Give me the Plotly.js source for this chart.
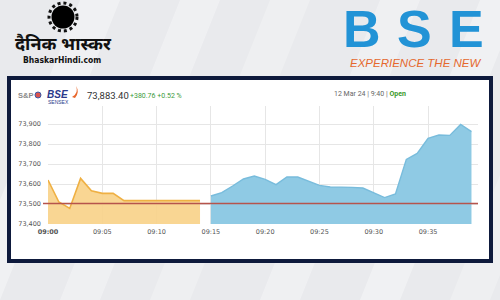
<!DOCTYPE html>
<html><head><meta charset="utf-8">
<script src="https://cdn.plot.ly/plotly-3.0.1.min.js"></script>
<style>html,body{margin:0;padding:0;background:#e9eaed}#chart{width:500px;height:300px}</style>
</head><body><div id="chart"></div><script>
const day = "2024-03-12 ";
const preOpenTimes = ["09:00","09:01","09:02","09:03","09:04","09:05","09:06","09:07","09:08","09:09","09:10","09:11","09:12","09:13","09:14"];
const preOpenValues = [73620,73510,73478,73628,73566,73553,73553,73517,73517,73517,73517,73517,73517,73517,73517];
const sessionTimes = ["09:15","09:16","09:17","09:18","09:19","09:20","09:21","09:22","09:23","09:24","09:25","09:26","09:27","09:28","09:29","09:30","09:31","09:32","09:33","09:34","09:35","09:36","09:37","09:38","09:39"];
const sessionValues = [73540,73557,73590,73625,73640,73623,73597,73635,73635,73613,73593,73585,73585,73583,73580,73557,73532,73550,73723,73753,73828,73845,73843,73898,73862];
const previousClose = 73502.64;
const yTickValues = [73400,73500,73600,73700,73800,73900];
const yTickLabels = ["73,400","73,500","73,600","73,700","73,800","73,900"];
const xTickTimes = ["09:00","09:05","09:10","09:15","09:20","09:25","09:30","09:35"];
const xTickLabels = ["<b>09:00</b>","09:05","09:10","09:15","09:20","09:25","09:30","09:35"];
const xRange = ["09:00:00","09:39:36"];
const lastValueText = "73,883.40";
const changeText = "+380.76 +0.52 %";
const statusText = "12 Mar 24 | 9:40 | ";
const statusWord = "Open";

const toDate = t => day + t;
const W = 500, H = 300;
const px = x => x / W, py = y => 1 - y / H;

const traces = [
  {x: preOpenTimes.map(toDate), y: preOpenValues, type: "scatter", mode: "lines",
   fill: "tozeroy", fillcolor: "rgba(248,210,135,0.9)", line: {color: "#efb043", width: 1.6}, hoverinfo: "skip"},
  {x: sessionTimes.map(toDate), y: sessionValues, type: "scatter", mode: "lines",
   fill: "tozeroy", fillcolor: "#8fcae4", line: {color: "#78bcdc", width: 1.4}, hoverinfo: "skip"}
];

const stripes = [];
[[-40,0.35],[60,0.3],[150,0.25],[260,0.3],[360,0.35],[450,0.25]].forEach(([x0,o])=>{
  stripes.push({type:"path", xref:"paper", yref:"paper", layer:"below",
    path:`M ${px(x0)} 0 L ${px(x0+40)} 0 L ${px(x0+160)} 1 L ${px(x0+120)} 1 Z`,
    fillcolor:`rgba(255,255,255,${o})`, line:{width:0}});
});

const shapes = stripes.concat([
  {type:"rect", xref:"paper", yref:"paper", layer:"below", x0:px(9), x1:px(491), y0:py(261), y1:py(78),
   fillcolor:"#ffffff", line:{color:"#0e1a3c", width:4}},
  // sun logo
  {type:"circle", xref:"paper", yref:"paper", layer:"below", x0:px(49), x1:px(77), y0:py(31), y1:py(3),
   fillcolor:"rgba(0,0,0,0)", line:{color:"#111", width:3, dash:"dot"}},
  {type:"circle", xref:"paper", yref:"paper", layer:"below", x0:px(51.5), x1:px(74.5), y0:py(28.5), y1:py(5.5),
   fillcolor:"#000", line:{color:"#000", width:0}},
  // flame icon
  {type:"path", xref:"paper", yref:"paper", path:`M ${px(72)} ${py(97)} Q ${px(79)} ${py(93)} ${px(76)} ${py(86)} Q ${px(80)} ${py(92)} ${px(75)} ${py(98)} Z`,
   fillcolor:"#e8672c", line:{width:0}},
  {type:"circle", xref:"paper", yref:"paper", x0:px(35), x1:px(41), y0:py(98), y1:py(92),
   fillcolor:"#d9534f", line:{color:"#3a5aa8", width:1}},
  // previous close line
  {type:"line", xref:"paper", yref:"y", x0:px(43), x1:px(478), y0:previousClose, y1:previousClose,
   line:{color:"#b6544c", width:1.5}}
]);

const ann = (text, x, y, size, color, extra={}) => Object.assign({
  text, xref:"paper", yref:"paper", x:px(x), y:py(y), showarrow:false,
  xanchor:"center", yanchor:"middle", font:{size, color, family:"Liberation Sans, Arial, sans-serif"}}, extra);

const bseFont = {size:52, color:"#2293d6", weight:700, family:"Liberation Sans, sans-serif"};
const annotations = [
  ann("दैनिक भास्कर", 63, 43, 18, "#111", {font:{size:18, color:"#111", weight:700, family:"Noto Sans, sans-serif"}}),
  ann("BhaskarHindi.com", 62, 60, 8.5, "#111", {font:{size:8.5, color:"#111", weight:700, family:"DejaVu Sans Condensed, DejaVu Sans, sans-serif"}}),
  ann("B", 362, 29, 52, "#2293d6", {font:bseFont}),
  ann("S", 414, 29, 52, "#2293d6", {font:bseFont}),
  ann("E", 466, 29, 52, "#2293d6", {font:bseFont}),
  ann("EXPERIENCE THE NEW", 415, 63, 11.5, "#e5682d", {font:{size:11.5, color:"#e5682d", style:"italic", family:"Liberation Sans, sans-serif"}}),
  ann("S&P", 16, 95, 7.5, "#8a8a8a", {xanchor:"left", font:{size:7.5, color:"#8a8a8a", weight:700, family:"Liberation Sans, sans-serif"}}),
  ann("BSE", 45, 94, 10, "#2a3a8c", {xanchor:"left", font:{size:10, color:"#2a3a8c", weight:700, style:"italic", family:"Liberation Sans, sans-serif"}}),
  ann("SENSEX", 46, 102, 5, "#2a3a8c", {xanchor:"left", font:{size:5, color:"#2a3a8c", family:"Liberation Sans, sans-serif"}}),
  ann(lastValueText, 85, 95, 9.5, "#333", {xanchor:"left", font:{size:9.5, color:"#333", family:"Roboto, sans-serif"}}),
  ann(changeText, 128, 96, 7, "#3c9b3c", {xanchor:"left", font:{size:7, color:"#3c9b3c", family:"Roboto, sans-serif"}}),
  ann(statusText + `<span style="color:#3a9a2a"><b>${statusWord}</b></span>`, 370, 94, 7, "#666", {font:{size:7, color:"#666", family:"Roboto, sans-serif"}})
];

const layout = {
  width: W, height: H, margin: {l:0, r:0, t:0, b:0},
  paper_bgcolor: "#e9eaed", plot_bgcolor: "rgba(0,0,0,0)", showlegend: false,
  xaxis: {type:"date", domain:[px(48), px(478)], range: xRange.map(toDate),
    tickvals: xTickTimes.map(toDate), ticktext: xTickLabels, showgrid: true, gridcolor:"#e6e6e6",
    zeroline:false, showline:false, ticks:"", ticklabelstandoff: 2,
    tickfont:{size:6.5, color:"#555", family:"DejaVu Sans, sans-serif"}, fixedrange:true},
  yaxis: {domain:[py(224), py(106)], range:[73400, 73990], tickvals: yTickValues, ticktext: yTickLabels,
    showgrid:true, gridcolor:"#e6e6e6", zeroline:false, showline:false, ticks:"", ticklabelstandoff: 6,
    tickfont:{size:6.5, color:"#555", family:"DejaVu Sans, sans-serif"}, fixedrange:true},
  shapes, annotations
};

Plotly.newPlot("chart", traces, layout, {staticPlot:true, displayModeBar:false});
</script></body></html>
